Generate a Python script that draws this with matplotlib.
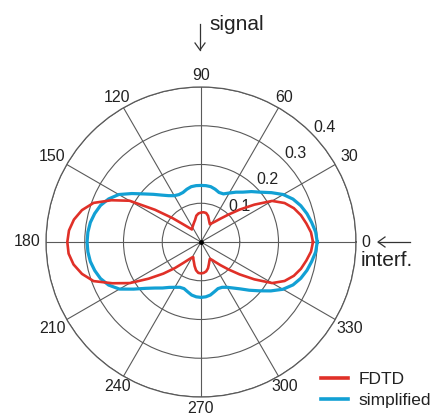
import numpy as np
import matplotlib
matplotlib.use("Agg")
import matplotlib.pyplot as plt

plt.rcParams['font.family'] = ['Liberation Sans', 'DejaVu Sans']

# ---- data (angles in degrees, normalised radial values) ----
fdtd_angles = [0, 5, 10, 15, 20, 25, 30, 35, 40, 45, 50, 55, 60, 63, 66, 70, 75, 80, 85, 90,
               95, 100, 105, 110, 115, 120, 126, 130, 135, 140, 145, 150, 155, 160, 165, 170, 175, 180,
               185, 190, 195, 200, 205, 210, 215, 220, 225, 230, 235, 240, 243, 247, 250, 255, 260, 265, 270,
               275, 280, 285, 290, 295, 298, 302, 305, 310, 315, 320, 325, 330, 335, 340, 345, 350, 355, 360]
fdtd_values = [0.289, 0.285, 0.276, 0.267, 0.255, 0.238, 0.212, 0.168, 0.130, 0.100, 0.079, 0.065, 0.056, 0.051, 0.054, 0.060, 0.070, 0.076, 0.077, 0.076,
               0.074, 0.069, 0.059, 0.053, 0.048, 0.044, 0.040, 0.048, 0.064, 0.096, 0.145, 0.213, 0.255, 0.295, 0.318, 0.333, 0.342, 0.345,
               0.343, 0.334, 0.318, 0.295, 0.252, 0.212, 0.165, 0.127, 0.095, 0.070, 0.055, 0.046, 0.044, 0.050, 0.054, 0.064, 0.074, 0.080, 0.081,
               0.080, 0.077, 0.070, 0.060, 0.052, 0.049, 0.055, 0.062, 0.078, 0.100, 0.130, 0.168, 0.212, 0.238, 0.255, 0.267, 0.276, 0.285, 0.289]

simp_angles = [0, 5, 10, 15, 20, 25, 30, 35, 40, 45, 50, 55, 60, 65, 70, 75, 80, 85, 90,
               95, 100, 105, 110, 115, 120, 125, 130, 135, 140, 145, 150, 155, 160, 165, 170, 175, 180,
               185, 190, 195, 200, 205, 210, 215, 220, 225, 230, 235, 240, 245, 250, 255, 260, 265, 270,
               275, 280, 285, 290, 295, 300, 305, 310, 315, 320, 325, 330, 335, 340, 345, 350, 355, 360]
simp_values = [0.300, 0.297, 0.290, 0.283, 0.274, 0.262, 0.245, 0.222, 0.200, 0.184, 0.168, 0.157, 0.146, 0.137, 0.136, 0.141, 0.145, 0.146, 0.146,
               0.146, 0.145, 0.141, 0.136, 0.135, 0.138, 0.146, 0.158, 0.174, 0.193, 0.218, 0.245, 0.263, 0.276, 0.284, 0.290, 0.293, 0.294,
               0.293, 0.290, 0.284, 0.276, 0.263, 0.243, 0.212, 0.186, 0.168, 0.155, 0.143, 0.135, 0.129, 0.128, 0.133, 0.139, 0.142, 0.143,
               0.142, 0.139, 0.133, 0.128, 0.129, 0.135, 0.145, 0.158, 0.176, 0.196, 0.220, 0.244, 0.262, 0.274, 0.283, 0.290, 0.297, 0.300]

r_ticks = [0.1, 0.2, 0.3, 0.4]
r_tick_labels = ["0.1", "0.2", "0.3", "0.4"]
theta_ticks = [0, 30, 60, 90, 120, 150, 180, 210, 240, 270, 300, 330]
theta_labels = ["0", "30", "60", "90", "120", "150", "180", "210", "240", "270", "300", "330"]
series_labels = ["FDTD", "simplified"]

RED = "#e03028"
BLUE = "#12a0d4"
GRID = "#5a5a5a"

W, H, DPI = 437, 415, 100
fig = plt.figure(figsize=(W / DPI, H / DPI), dpi=DPI)
cx, cy, R = 201, 242, 155  # pixel geometry of the polar plot
ax = fig.add_axes([(cx - R) / W, (H - cy - R) / H, 2 * R / W, 2 * R / H], projection="polar")

ax.plot(np.deg2rad(simp_angles), simp_values, color=BLUE, lw=2.3, label=series_labels[1], zorder=3)
ax.plot(np.deg2rad(fdtd_angles), fdtd_values, color=RED, lw=1.9, label=series_labels[0], zorder=4)
ax.plot([0], [0], "o", color="k", ms=2.5, zorder=5)

ax.set_rlim(0, 0.4)
ax.set_rticks(r_ticks)
ax.set_yticklabels([])
ax.set_thetagrids(theta_ticks, [""] * len(theta_ticks))
ax.grid(True, color=GRID, lw=0.8)
ax.spines["polar"].set_color(GRID)
ax.spines["polar"].set_linewidth(0.9)

fs = 11.5
px_per_pt = DPI / 72.0
rmax = 0.4
gap = 5.5
for ang, lab in zip(theta_ticks, theta_labels):
    th = np.deg2rad(ang)
    c, s = np.cos(th), np.sin(th)
    w = len(lab) * 0.556 * fs * px_per_pt
    h = 0.72 * fs * px_per_pt
    ext = min(w / 2 / abs(c) if abs(c) > 1e-6 else 1e9, h / 2 / abs(s) if abs(s) > 1e-6 else 1e9)
    dist = R + gap + ext
    ax.text(th, rmax * dist / R, lab, ha="center", va="center", fontsize=fs,
            color="#222222", clip_on=False)

for rv, lab in zip(r_ticks, r_tick_labels):
    ax.text(np.deg2rad(43), rv + 0.035, lab, ha="center", va="center", fontsize=fs,
            color="#222222", clip_on=False)

# annotations
fig.text(209 / W, 1 - 24 / H, "signal", fontsize=15, ha="left", va="center", color="#222222")
fig.add_artist(plt.Line2D([200 / W, 200 / W], [1 - 24 / H, 1 - 50 / H], color="#333333", lw=0.9))
fig.add_artist(plt.Line2D([195 / W, 200 / W, 205 / W], [1 - 43 / H, 1 - 50 / H, 1 - 43 / H], color="#333333", lw=0.9))
fig.add_artist(plt.Line2D([378 / W, 410 / W], [1 - 242 / H, 1 - 242 / H], color="#333333", lw=0.9))
fig.add_artist(plt.Line2D([385 / W, 378 / W, 385 / W], [1 - 237 / H, 1 - 242 / H, 1 - 247 / H], color="#333333", lw=0.9))
fig.text(361 / W, 1 - 260 / H, "interf.", fontsize=15, ha="left", va="center", color="#222222")

handles, labels = ax.get_legend_handles_labels()
order = [labels.index(series_labels[0]), labels.index(series_labels[1])]
leg = ax.legend([handles[i] for i in order], [labels[i] for i in order],
                loc="upper left", bbox_to_anchor=(321 / W, 1 - 372 / H), bbox_transform=fig.transFigure,
                frameon=False, fontsize=12.5, handlelength=1.55, handletextpad=0.6,
                borderpad=0, borderaxespad=0, labelspacing=0.35)
for t in leg.get_texts():
    t.set_color("#222222")
for l in leg.get_lines():
    l.set_linewidth(2.6)

fig.savefig("out.png", dpi=DPI)
